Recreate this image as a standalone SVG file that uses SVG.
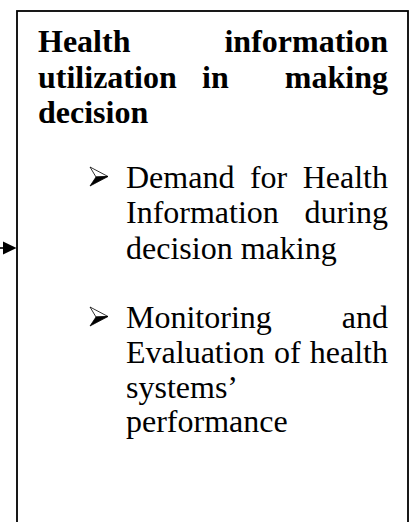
<svg xmlns="http://www.w3.org/2000/svg" width="411" height="522" viewBox="0 0 411 522">
  <style>
    .frame { fill: #ffffff; stroke: #000000; stroke-width: 1.8; }
    .head { font-family: "Liberation Serif", "Times New Roman", serif; font-weight: bold; font-size: 32px; fill: #000000; }
    .body { font-family: "Liberation Serif", "Times New Roman", serif; font-size: 32px; fill: #000000; }
    .wire { stroke: #000000; stroke-width: 1.6; fill: none; }
    .tip { fill: #000000; }
    .mark-light { fill: #ffffff; stroke: #000000; stroke-width: 0.8; stroke-linejoin: round; }
    .mark-dark { fill: #000000; stroke: #000000; stroke-width: 0.8; stroke-linejoin: round; }
  </style>
  <defs>
    <!-- 3D arrowhead list marker -->
    <g id="marker-arrow">
      <path class="mark-light" d="M0,0 L18,9.5 L6,10 Z"/>
      <path class="mark-dark" d="M6,10 L18,9.5 L0,19 Z"/>
    </g>
  </defs>

  <rect width="411" height="522" fill="#ffffff"/>

  <!-- incoming connector from the left -->
  <g id="connectors">
    <line class="wire" x1="-5" y1="248" x2="6" y2="248"/>
    <path class="tip" d="M3,241.5 L16.5,248 L3,254.5 Z"/>
  </g>

  <g id="node-utilization">
    <rect class="frame" x="17" y="11" width="391" height="530"/>

    <text class="head" x="38" y="52">Health</text>
    <text class="head" x="388" y="52" text-anchor="end">information</text>
    <text class="head" x="38" y="87.5">utilization</text>
    <text class="head" x="202" y="87.5">in</text>
    <text class="head" x="388" y="87.5" text-anchor="end">making</text>
    <text class="head" x="38" y="123">decision</text>

    <use href="#marker-arrow" x="90" y="167"/>
    <text class="body" x="126" y="188">Demand</text>
    <text class="body" x="249.9" y="188">for</text>
    <text class="body" x="388" y="188" text-anchor="end">Health</text>
    <text class="body" x="126" y="223">Information</text>
    <text class="body" x="388" y="223" text-anchor="end">during</text>
    <text class="body" x="126" y="258.5">decision making</text>

    <use href="#marker-arrow" x="90" y="307"/>
    <text class="body" x="126" y="328">Monitoring</text>
    <text class="body" x="388" y="328" text-anchor="end">and</text>
    <text class="body" x="126" y="363">Evaluation</text>
    <text class="body" x="273.9" y="363">of</text>
    <text class="body" x="388" y="363" text-anchor="end">health</text>
    <text class="body" x="126" y="397.5">systems’</text>
    <text class="body" x="126" y="432">performance</text>
  </g>
</svg>
